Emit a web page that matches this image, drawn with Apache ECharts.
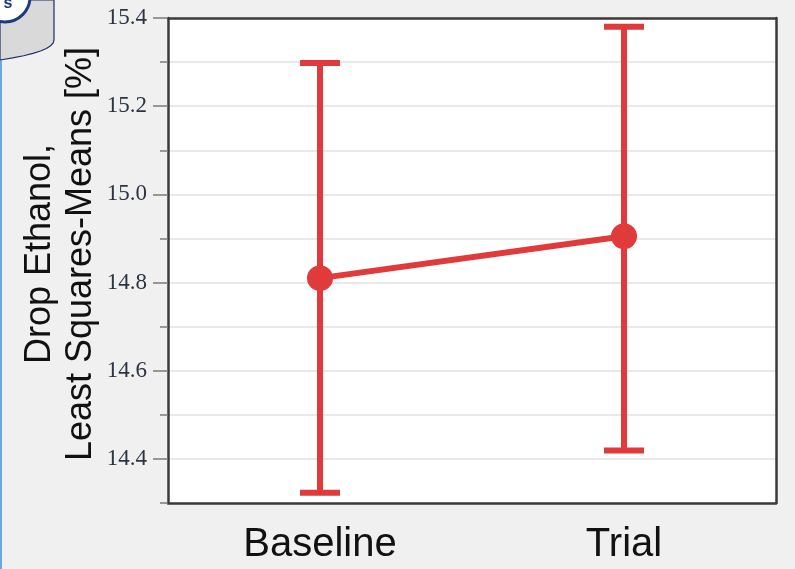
<!DOCTYPE html>
<html>
<head>
<meta charset="utf-8">
<script src="https://cdn.jsdelivr.net/npm/echarts@6/dist/echarts.min.js"></script>
<style>
html,body{margin:0;padding:0;background:#f0f0f0;}
#chart{width:795px;height:569px;}
</style>
</head>
<body>
<div id="chart"></div>
<script>
var categories = ['Baseline', 'Trial'];
var means = [14.81, 14.905];
var lowerCI = [14.323, 14.419];
var upperCI = [15.298, 15.38];
var majorTicks = [14.4, 14.6, 14.8, 15.0, 15.2, 15.4];
var minorTicks = [14.3, 14.5, 14.7, 14.9, 15.1, 15.3];
var yTitle = 'Drop Ethanol,\nLeast Squares-Means [%]';

var RED = '#e03a3a';
var BORDER = { show: true, lineStyle: { color: '#3a3a3a', width: 2.5 } };
var errData = categories.map(function (c, i) { return [i, lowerCI[i], upperCI[i]]; });

// logo outline (decoration) : quadratic curve sampled
var logoPts = [[0, 0], [54, 0], [54, 40]];
for (var k = 1; k <= 8; k++) {
  var t = k / 8;
  var px = (1 - t) * (1 - t) * 54 + 2 * (1 - t) * t * 54 + t * t * 0;
  var py = (1 - t) * (1 - t) * 40 + 2 * (1 - t) * t * 52 + t * t * 60;
  logoPts.push([px, py]);
}

var chart = echarts.init(document.getElementById('chart'));
var yBase = { type: 'value', min: 14.3, max: 15.4, position: 'left' };
var hiddenParts = { axisLabel: { show: false }, splitLine: { show: false } };
chart.setOption({
  backgroundColor: '#f0f0f0',
  animation: false,
  grid: { left: 168, top: 18, right: 19, bottom: 66, show: true, backgroundColor: '#ffffff', borderColor: '#3a3a3a', borderWidth: 0 },
  xAxis: [
    {
      type: 'category', data: categories, boundaryGap: true, position: 'bottom',
      axisLine: BORDER, axisTick: { show: false },
      axisLabel: { fontFamily: 'Liberation Sans', fontSize: 40, color: '#111', margin: 22 }
    },
    {
      type: 'category', data: categories, boundaryGap: true, position: 'top',
      axisLine: BORDER, axisTick: { show: false }, axisLabel: { show: false }, splitLine: { show: false }
    }
  ],
  yAxis: [
    Object.assign({}, yBase, {
      interval: 0.1,
      axisLine: BORDER, axisTick: { show: false },
      splitLine: { show: true, showMinLine: false, showMaxLine: false, lineStyle: { color: '#e2e2e2', width: 1.5 } },
      axisLabel: {
        margin: 21, fontFamily: 'Liberation Serif', fontSize: 23, color: '#2c3444',
        formatter: function (v) {
          var t = Math.round(v * 10);
          return t % 2 === 0 ? (t / 10).toFixed(1) : '';
        }
      }
    }),
    Object.assign({}, yBase, hiddenParts, {
      axisLine: { show: false },
      axisTick: { show: true, customValues: majorTicks, length: 15, lineStyle: { color: '#7a7a7a', width: 1.5 } }
    }),
    Object.assign({}, yBase, hiddenParts, {
      axisLine: { show: false },
      axisTick: { show: true, customValues: minorTicks, length: 8, lineStyle: { color: '#7a7a7a', width: 1.5 } }
    }),
    Object.assign({}, yBase, hiddenParts, {
      position: 'right', axisLine: BORDER, axisTick: { show: false }
    })
  ],
  graphic: [
    { type: 'line', shape: { x1: 1, y1: 60, x2: 1, y2: 569 }, style: { stroke: '#6aa8e8', lineWidth: 2 } },
    { type: 'polygon', shape: { points: logoPts }, style: { fill: '#d9d9d9', stroke: '#1d2f66', lineWidth: 1.2 } },
    { type: 'circle', shape: { cx: 5, cy: -3, r: 25 }, style: { fill: '#ffffff', stroke: '#1d3a7c', lineWidth: 3 } },
    { type: 'text', x: 8, y: 4, style: { text: 's', font: 'bold 16px Liberation Sans', fill: '#1d3a7c', align: 'center', verticalAlign: 'middle' } },
    {
      type: 'text', x: 61, y: 254, rotation: Math.PI / 2,
      style: { text: yTitle, font: '36px Liberation Sans', lineHeight: 41, fill: '#111', align: 'center', verticalAlign: 'middle' }
    }
  ],
  series: [
    {
      type: 'custom', yAxisIndex: 0, data: errData, z: 2,
      renderItem: function (params, api) {
        var x = api.value(0);
        var lo = api.coord([x, api.value(1)]);
        var hi = api.coord([x, api.value(2)]);
        var hw = 20;
        var st = { stroke: RED, lineWidth: 6, fill: null };
        return {
          type: 'group', children: [
            { type: 'line', shape: { x1: hi[0], y1: hi[1], x2: lo[0], y2: lo[1] }, style: st },
            { type: 'line', shape: { x1: hi[0] - hw, y1: hi[1], x2: hi[0] + hw, y2: hi[1] }, style: st },
            { type: 'line', shape: { x1: lo[0] - hw, y1: lo[1], x2: lo[0] + hw, y2: lo[1] }, style: st }
          ]
        };
      }
    },
    {
      type: 'line', yAxisIndex: 0, data: means, z: 3,
      symbol: 'circle', symbolSize: 26,
      lineStyle: { color: RED, width: 6 }, itemStyle: { color: RED }
    }
  ]
});
</script>
</body>
</html>
